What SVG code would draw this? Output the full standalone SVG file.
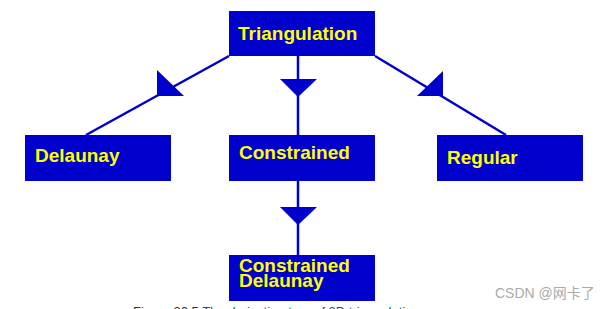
<svg xmlns="http://www.w3.org/2000/svg" width="609" height="309" viewBox="0 0 609 309">
<style>
.box{fill:#0000cc;}
.lbl{fill:#ffff00;font-family:"Liberation Sans",Arial,sans-serif;font-weight:bold;font-size:19px;}
.ln{stroke:#0000cc;stroke-width:2.5;fill:none;}
.ah{fill:#0000cc;stroke:none;}
</style>
<rect width="609" height="309" fill="#ffffff"/>
<g id="connectors">
<line class="ln" x1="229" y1="56" x2="86" y2="135"/>
<polygon class="ah" points="157,70 157,96 184,96"/>
<line class="ln" x1="298" y1="56" x2="298" y2="135"/>
<polygon class="ah" points="280,79 317,79 298,97"/>
<line class="ln" x1="375" y1="56" x2="506" y2="135"/>
<polygon class="ah" points="443,71 443,96 417,96"/>
<line class="ln" x1="298" y1="181" x2="298" y2="255"/>
<polygon class="ah" points="280,207 317,207 298,225"/>
</g>
<g id="triangulation">
<rect class="box" x="229" y="11" width="146" height="45"/>
<text class="lbl" x="238" y="40">Triangulation</text>
</g>
<g id="delaunay">
<rect class="box" x="25" y="135" width="146" height="46"/>
<text class="lbl" x="35" y="162">Delaunay</text>
</g>
<g id="constrained">
<rect class="box" x="229" y="135" width="146" height="46"/>
<text class="lbl" x="239" y="159">Constrained</text>
</g>
<g id="regular">
<rect class="box" x="437" y="135" width="146" height="46"/>
<text class="lbl" x="447" y="164">Regular</text>
</g>
<g id="constrained-delaunay">
<rect class="box" x="229" y="255" width="146" height="46"/>
<text class="lbl" x="239" y="272">Constrained</text>
<text class="lbl" x="239" y="287">Delaunay</text>
</g>
<text x="133" y="316" font-family="'Liberation Sans',Arial,sans-serif" font-size="13" fill="#333333">Figure 30.5 <tspan fill="#1a4a9a">The derivation tree of 2D triangulations</tspan></text>
<text x="495" y="298" font-family="'Liberation Sans','Noto Sans CJK SC',sans-serif" font-size="14" fill="#aaaaaa">CSDN @网卡了</text>
</svg>
